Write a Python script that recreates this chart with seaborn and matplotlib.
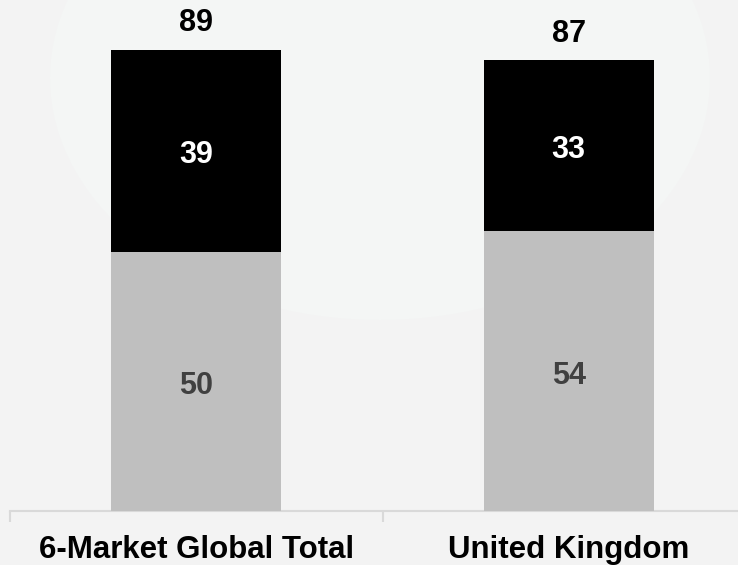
import matplotlib
matplotlib.use("Agg")
import matplotlib.pyplot as plt
from matplotlib.patches import Ellipse
import seaborn as sns
import pandas as pd

# Data
markets = ["6-Market Global Total", "United Kingdom"]
lower_share = [50, 54]   # grey segment
upper_share = [39, 33]   # black segment
totals = [89, 87]

sns.set_style("white")
plt.rcParams["font.family"] = ["Liberation Sans", "DejaVu Sans"]
plt.rcParams["font.weight"] = "bold"

df = pd.DataFrame({
    "market": markets,
    "lower": lower_share,
    "stack_top": [a + b for a, b in zip(lower_share, upper_share)],
})

W, H = 738, 565
fig = plt.figure(figsize=(W / 100, H / 100), dpi=100)
fig.patch.set_facecolor("#f3f3f3")

# soft lighter glow behind the upper part of the chart
glow = Ellipse((380 / 100, (H - 78) / 100), 6.6, 4.84,
               transform=fig.dpi_scale_trans, facecolor="#f4f6f5",
               edgecolor="none", zorder=-5)
fig.patches.append(glow)

ax = fig.add_axes([10 / W, 54 / H, 745 / W, 508 / H])
ax.set_zorder(2)
ax.set_facecolor("none")

bar_w = 0.456
sns.barplot(data=df, x="market", y="stack_top", color="#000000",
            width=bar_w, saturation=1, ax=ax, zorder=2,
            edgecolor="none", linewidth=0)
sns.barplot(data=df, x="market", y="lower", color="#bfbfbf",
            width=bar_w, saturation=1, ax=ax, zorder=3,
            edgecolor="none", linewidth=0)

ax.set_xlim(-0.5, 1.5)
ax.set_ylim(0, 98)
ax.set_xlabel("")
ax.set_ylabel("")
ax.set_yticks([])

for s in ["left", "right", "top"]:
    ax.spines[s].set_visible(False)
ax.spines["bottom"].set_color("#d9d9d9")
ax.spines["bottom"].set_linewidth(1.5)

# category labels without marks; boundary ticks as minor ticks
ax.tick_params(axis="x", which="major", bottom=False, length=0, pad=17.5,
               labelsize=22.5, labelcolor="#000000")
for lbl in ax.get_xticklabels():
    lbl.set_fontweight("bold")
ax.set_xticks([-0.5, 0.5, 1.5], minor=True)
ax.tick_params(axis="x", which="minor", bottom=True, length=8, width=1.5,
               color="#d9d9d9", direction="out")

# value labels
for i in range(len(markets)):
    lo, up, tot = lower_share[i], upper_share[i], totals[i]
    ax.text(i, lo / 2 - 0.9, f"{lo}", ha="center", va="center",
            fontsize=22, fontweight="bold", color="#404040", zorder=5)
    ax.text(i, lo + up / 2 - 0.8, f"{up}", ha="center", va="center",
            fontsize=22, fontweight="bold", color="#ffffff", zorder=5)
    ax.text(i, tot + 5.1, f"{tot}", ha="center", va="center",
            fontsize=22, fontweight="bold", color="#000000", zorder=5,
            clip_on=False)

fig.savefig("out.png", dpi=100, facecolor=fig.get_facecolor())
